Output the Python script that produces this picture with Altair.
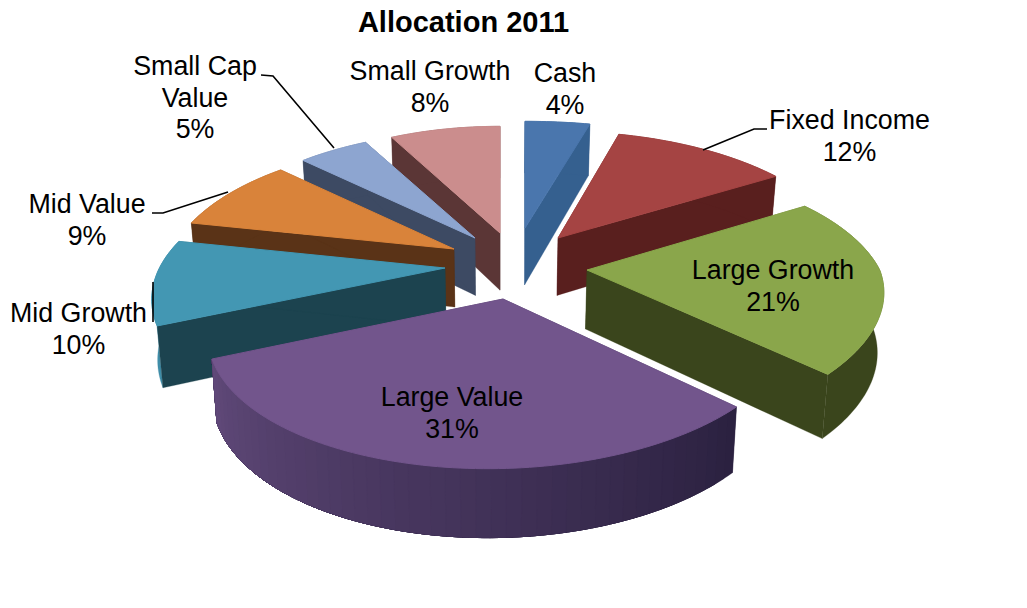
import math
import altair as alt

chart_title = "Allocation 2011"
categories = ["Cash", "Fixed Income", "Large Growth", "Large Value", "Mid Growth", "Mid Value", "Small Cap Value", "Small Growth"]
shares = [4, 12, 21, 31, 10, 9, 5, 8]
label_text = ["Cash\n4%", "Fixed Income\n12%", "Large Growth\n21%", "Large Value\n31%", "Mid Growth\n10%", "Mid Value\n9%", "Small Cap\nValue\n5%", "Small Growth\n8%"]
label_x = [565, 849.5, 773, 452, 78.5, 87, 195, 430]
label_y = [82, 129, 279, 406, 322, 213, 75, 80]

# where each exploded wedge's tip sits, in reference pixels
tip_x = [525, 558, 587, 503, 445, 454, 475, 500]
tip_y = [228, 238, 270, 299, 268, 249, 238, 233]
# small corrections for the perspective of the original drawing
reach_x = [1.11, 1.0, 1.02, 0.99, 0.995, 0.98, 0.95, 0.94]
spin_deg = [0, 0.6, -0.8, 0.7, 1.5, 1.2, 0, 0]
skew = [0, 0, 0.14, 0.09, 0, 0, 0, 0]
top_colors = ["#4a76ad", "#a54443", "#8aa64b", "#72558c", "#4397b3", "#d9833a", "#8da5d0", "#cb8d8d"]
cut_colors = ["#35608f", "#591f1e", "#3a451c", "#2c2240", "#1c434f", "#5a3317", "#3d4a63", "#5b3636"]
rim_right_colors = ["#35608f", "#591f1e", "#3a451c", "#2b2140", "#3f8da8", "#5a3317", "#3d4a63", "#5b3636"]
rim_left_colors = ["#35608f", "#591f1e", "#3a451c", "#604979", "#3f8da8", "#5a3317", "#3d4a63", "#5b3636"]
paint_order = [0, 7, 6, 1, 5, 4, 2, 3]

leader_x = [[767, 754, 703], [261, 273, 334], [152, 163, 228], [153, 153]]
leader_y = [[129, 129, 150], [75, 76, 148], [213, 213, 192], [282, 322]]

R, S, K = 287.0, 131.0, 0.228
LEFT, TOP, W, H = 8, 8, 1003, 584


def rim(i, theta):
    u, v = math.sin(theta), -math.cos(theta)
    f = 1 - K * v
    dy = S * v / f
    return (tip_x[i] + reach_x[i] * R * u / f - skew[i] * max(dy, 0), tip_y[i] + dy)


def drop(p):
    d = 45.5 + 0.05 * p[1]
    return (p[0] - 0.017 * (p[0] - 500), p[1] + d)


def mix(a, b, t):
    ca = [int(a[i:i + 2], 16) for i in (1, 3, 5)]
    cb = [int(b[i:i + 2], 16) for i in (1, 3, 5)]
    return "#%02x%02x%02x" % tuple(round(x + (y - x) * t) for x, y in zip(ca, cb))


def poly(pts, color, w):
    ring = [[p[0], p[1]] for p in pts]
    ring.append(ring[0])
    return {"type": "Feature", "geometry": {"type": "Polygon", "coordinates": [ring]}, "properties": {"c": color, "w": w}}


starts = []
acc = 0
for s in shares:
    starts.append(acc)
    acc += s

features = []
for i in paint_order:
    tip = (tip_x[i], tip_y[i])
    a0 = (starts[i] + spin_deg[i] / 3.6) / 100 * 2 * math.pi
    a1 = (starts[i] + shares[i] + spin_deg[i] / 3.6) / 100 * 2 * math.pi
    n = max(4, int(shares[i] * 3))
    thetas = [a0 + (a1 - a0) * k / n for k in range(n + 1)]
    edge = [rim(i, t) for t in thetas]
    cuts = [poly([tip, edge[0], drop(edge[0]), drop(tip)], cut_colors[i], 0.3),
            poly([tip, edge[-1], drop(edge[-1]), drop(tip)], cut_colors[i], 0.3)]
    # outer wall: one piece, or shaded bands that each reach to the wall's far end
    walls = []
    if rim_left_colors[i] == rim_right_colors[i]:
        walls.append(poly(edge + [drop(p) for p in reversed(edge)], rim_right_colors[i], 0.3))
    else:
        bands = 46
        for b in range(bands):
            first = round(b * n / bands)
            part = edge[first:]
            walls.append(poly(part + [drop(p) for p in reversed(part)],
                              mix(rim_right_colors[i], rim_left_colors[i], b / (bands - 1)), 0.3))
    # the Mid Growth rim only peeks out behind its cut face
    features += (walls + cuts) if categories[i] == "Mid Growth" else (cuts + walls)
    # top face
    features.append(poly([tip] + edge, top_colors[i], 1))

shapes = alt.Chart(alt.InlineData(values=features, format=alt.DataFormat(type="json"))).mark_geoshape().encode(
    fill=alt.Fill("properties.c:N", scale=None),
    stroke=alt.Stroke("properties.c:N", scale=None),
    strokeWidth=alt.StrokeWidth("properties.w:Q", scale=None),
).project(type="identity", scale=1, translate=[-LEFT, -TOP])

xs = alt.Scale(domain=[LEFT, LEFT + W])
ys = alt.Scale(domain=[TOP + H, TOP])

leader_rows = []
for j, (lx, ly) in enumerate(zip(leader_x, leader_y)):
    for k, (a, b) in enumerate(zip(lx, ly)):
        leader_rows.append({"line": j, "seq": k, "x": a, "y": b})

leaders = alt.Chart(alt.Data(values=leader_rows)).mark_line(color="#000000", strokeWidth=1.6).encode(
    x=alt.X("x:Q", scale=xs, axis=None),
    y=alt.Y("y:Q", scale=ys, axis=None),
    detail="line:N",
    order="seq:Q",
)

labels = alt.Chart(alt.Data(values=[
    {"t": t, "x": a, "y": b} for t, a, b in zip(label_text, label_x, label_y)
])).mark_text(
    font="Liberation Sans", fontSize=26.8, color="#000000", align="center",
    baseline="alphabetic", lineBreak="\n", lineHeight=31.5,
).encode(
    x=alt.X("x:Q", scale=xs, axis=None),
    y=alt.Y("y:Q", scale=ys, axis=None),
    text="t:N",
)

heading = alt.Chart(alt.Data(values=[{"t": chart_title, "x": 463.5, "y": 32}])).mark_text(
    font="Liberation Sans", fontSize=29, fontWeight="bold", color="#000000",
    align="center", baseline="alphabetic",
).encode(
    x=alt.X("x:Q", scale=xs, axis=None),
    y=alt.Y("y:Q", scale=ys, axis=None),
    text="t:N",
)

chart = alt.layer(shapes, leaders, labels, heading).properties(
    width=W, height=H,
    padding=0,
    autosize=alt.AutoSizeParams(type="none"),
    background="#ffffff",
).configure_view(stroke=None)

chart.save("out.html", embed_options={"renderer": "svg", "actions": False})
